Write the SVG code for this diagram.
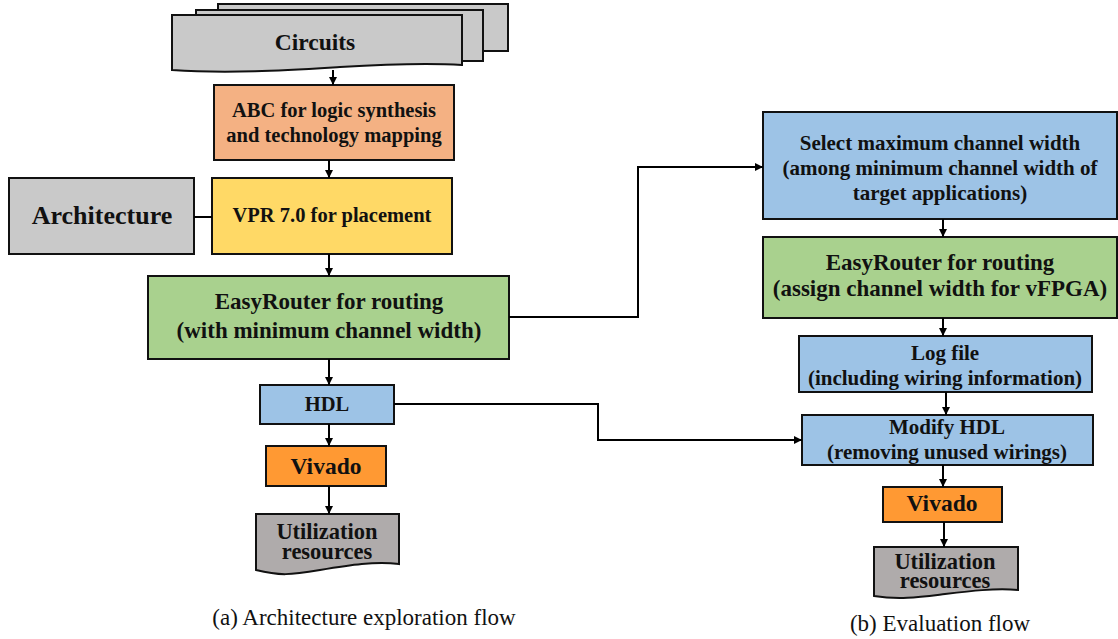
<svg xmlns="http://www.w3.org/2000/svg" width="1118" height="639" viewBox="0 0 1118 639">
<defs>
<marker id="ah" markerWidth="8" markerHeight="8" refX="8" refY="4" orient="auto" markerUnits="userSpaceOnUse">
<path d="M0,0 L8,4 L0,8 Z" fill="#000"/>
</marker>
<style>
.b{stroke:#111;stroke-width:2}
.t{font-family:"Liberation Serif","Times New Roman",serif;font-weight:bold;fill:#111;text-anchor:middle}
.c{font-family:"Liberation Serif","Times New Roman",serif;fill:#111;text-anchor:middle;font-size:23px}
.e{fill:none;stroke:#000;stroke-width:2}
</style>
</defs>
<rect width="1118" height="639" fill="#fff"/>
<g id="circuits">
<rect class="b" x="218" y="4" width="290" height="47" fill="#C9C9C9"/>
<rect class="b" x="196" y="10" width="287" height="51" fill="#C9C9C9"/>
<path class="b" d="M172,15 H462 V65 C430,63 390,64 340,67 S230,74 172,70 Z" fill="#C9C9C9"/>
<text class="t" x="315" y="50" font-size="23.5">Circuits</text>
</g>
<g id="abc">
<rect class="b" x="214" y="85" width="240" height="75" fill="#F4B183"/>
<text class="t" x="334" y="117" font-size="20.5">ABC for logic synthesis</text>
<text class="t" x="334" y="142" font-size="20.5">and technology mapping</text>
</g>
<g id="vpr">
<rect class="b" x="212" y="178" width="240" height="76" fill="#FFD966"/>
<text class="t" x="332" y="222" font-size="20.5">VPR 7.0 for placement</text>
</g>
<g id="architecture">
<rect class="b" x="9" y="178" width="185" height="76" fill="#C9C9C9"/>
<text class="t" x="102" y="224" font-size="26">Architecture</text>
</g>
<g id="easyrouter1">
<rect class="b" x="148" y="276" width="361" height="83" fill="#A9D18E"/>
<text class="t" x="329" y="309" font-size="23">EasyRouter for routing</text>
<text class="t" x="329" y="338" font-size="23">(with minimum channel width)</text>
</g>
<g id="hdl">
<rect class="b" x="260" y="385" width="134" height="39" fill="#9DC3E6"/>
<text class="t" x="327" y="411" font-size="20.5">HDL</text>
</g>
<g id="vivado1">
<rect class="b" x="266" y="446" width="120" height="40" fill="#FF9933"/>
<text class="t" x="326" y="474" font-size="23.5">Vivado</text>
</g>
<g id="util1">
<path class="b" d="M256,514 H399 V564 C375,561 350,565 320,570 S280,576 256,570 Z" fill="#AFABAB"/>
<text class="t" x="327" y="539" font-size="22.5">Utilization</text>
<text class="t" x="327" y="559" font-size="22.5">resources</text>
</g>
<g id="select">
<rect class="b" x="763" y="112" width="354" height="107" fill="#9DC3E6"/>
<text class="t" x="940" y="150" font-size="21">Select maximum channel width</text>
<text class="t" x="940" y="175" font-size="21">(among minimum channel width of</text>
<text class="t" x="940" y="200" font-size="21">target applications)</text>
</g>
<g id="easyrouter2">
<rect class="b" x="763" y="237" width="354" height="81" fill="#A9D18E"/>
<text class="t" x="940" y="270" font-size="23">EasyRouter for routing</text>
<text class="t" x="940" y="296" font-size="23">(assign channel width for vFPGA)</text>
</g>
<g id="logfile">
<rect class="b" x="799" y="336" width="293" height="56" fill="#9DC3E6"/>
<text class="t" x="945" y="360" font-size="21">Log file</text>
<text class="t" x="945" y="385" font-size="21">(including wiring information)</text>
</g>
<g id="modify">
<rect class="b" x="802" y="415" width="291" height="50" fill="#9DC3E6"/>
<text class="t" x="947" y="434" font-size="21">Modify HDL</text>
<text class="t" x="947" y="459" font-size="21">(removing unused wirings)</text>
</g>
<g id="vivado2">
<rect class="b" x="883" y="487" width="119" height="35" fill="#FF9933"/>
<text class="t" x="942" y="511" font-size="23.5">Vivado</text>
</g>
<g id="util2">
<path class="b" d="M874,547 H1018 V590 C995,588 970,591 945,594 S900,600 874,596 Z" fill="#AFABAB"/>
<text class="t" x="945" y="569" font-size="22.5">Utilization</text>
<text class="t" x="945" y="588" font-size="22.5">resources</text>
</g>
<g id="captions">
<text class="c" x="364" y="625">(a) Architecture exploration flow</text>
<text class="c" x="940" y="631">(b) Evaluation flow</text>
</g>
<g id="connectors">
<line class="e" x1="333" y1="70" x2="333" y2="85" marker-end="url(#ah)"/>
<line class="e" x1="329" y1="160" x2="329" y2="178" marker-end="url(#ah)"/>
<line class="e" x1="194" y1="217" x2="212" y2="217"/>
<line class="e" x1="329" y1="254" x2="329" y2="276" marker-end="url(#ah)"/>
<line class="e" x1="329" y1="359" x2="329" y2="385" marker-end="url(#ah)"/>
<line class="e" x1="329" y1="424" x2="329" y2="446" marker-end="url(#ah)"/>
<line class="e" x1="329" y1="486" x2="329" y2="514" marker-end="url(#ah)"/>
<polyline class="e" points="509,317 638,317 638,167 763,167" marker-end="url(#ah)"/>
<polyline class="e" points="394,404 598,404 598,440 802,440" marker-end="url(#ah)"/>
<line class="e" x1="943" y1="219" x2="943" y2="237" marker-end="url(#ah)"/>
<line class="e" x1="943" y1="318" x2="943" y2="336" marker-end="url(#ah)"/>
<line class="e" x1="946" y1="392" x2="946" y2="415" marker-end="url(#ah)"/>
<line class="e" x1="943" y1="465" x2="943" y2="487" marker-end="url(#ah)"/>
<line class="e" x1="944" y1="522" x2="944" y2="547" marker-end="url(#ah)"/>
</g>
</svg>
